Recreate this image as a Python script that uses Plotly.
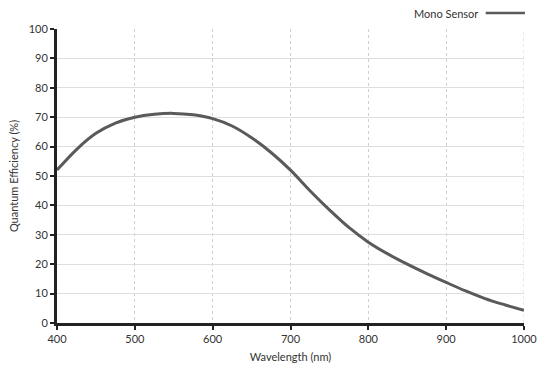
import plotly.graph_objects as go

wavelength = [400, 425, 450, 475, 500, 525, 550, 575, 600, 625, 650, 675, 700,
              725, 750, 775, 800, 825, 850, 875, 900, 925, 950, 975, 1000]
qe_mono = [52.0, 59.0, 64.5, 68.0, 70.0, 71.0, 71.3, 70.8, 69.5, 67.0, 63.0, 58.0, 52.0,
           45.0, 38.5, 32.5, 27.5, 23.5, 20.0, 16.8, 13.8, 10.9, 8.3, 6.2, 4.3]
series_name = "Mono Sensor"
x_ticks = [400, 500, 600, 700, 800, 900, 1000]
y_ticks = [0, 10, 20, 30, 40, 50, 60, 70, 80, 90, 100]

FONT = "Lato, 'Open Sans', sans-serif"
LINE_COLOR = "#5a5a5a"
GRID_X = "#cfcfcf"

fig = go.Figure()
fig.add_trace(go.Scatter(
    x=wavelength, y=qe_mono, mode="lines", name=series_name,
    line=dict(color=LINE_COLOR, width=3, shape="spline", smoothing=1.0),
    showlegend=False, cliponaxis=False, hoverinfo="skip",
))

# right-edge dashed grid line (plotly drops grid at the range end)
fig.add_shape(type="line", xref="x", yref="paper", x0=x_ticks[-1], x1=x_ticks[-1],
              y0=0, y1=1, line=dict(color=GRID_X, width=1, dash="3px,3px"), layer="below")

# legend substitute (text left of line sample)
fig.add_annotation(xref="paper", yref="paper", x=0.905, y=1.054, xanchor="right",
                   yanchor="middle", text=series_name, showarrow=False,
                   font=dict(family=FONT, size=11, color="#333"))
fig.add_shape(type="line", xref="paper", yref="paper", x0=0.918, x1=1.002,
              y0=1.054, y1=1.054, line=dict(color=LINE_COLOR, width=2.5))

fig.update_layout(
    width=537, height=369,
    margin=dict(l=57, r=13, t=29, b=46),
    paper_bgcolor="white", plot_bgcolor="white",
    font=dict(family=FONT, size=11, color="#333"),
)
fig.update_xaxes(
    range=[400, 1000], tickvals=x_ticks, ticktext=[str(v) for v in x_ticks],
    showgrid=True, gridcolor=GRID_X, griddash="3px,3px", gridwidth=1,
    showline=True, linecolor="#222", linewidth=3,
    ticks="outside", ticklen=4, tickwidth=2, tickcolor="#222",
    zeroline=False, automargin=False, ticklabeloverflow="allow",
    title=dict(text="Wavelength (nm)", font=dict(size=11, color="#333"), standoff=10),
)
fig.update_yaxes(
    range=[0, 100], tickvals=y_ticks,
    showgrid=True, gridcolor="#dedede", gridwidth=1,
    showline=True, linecolor="#222", linewidth=3,
    ticks="outside", ticklen=4, tickwidth=2, tickcolor="#222",
    zeroline=False, automargin=False,
    title=dict(text="Quantum Efficiency (%)", font=dict(size=11, color="#333"), standoff=8),
)

fig.write_html("out.html", config={"displayModeBar": False},
               post_script="document.body.style.margin='0';document.body.style.overflow='hidden';")
